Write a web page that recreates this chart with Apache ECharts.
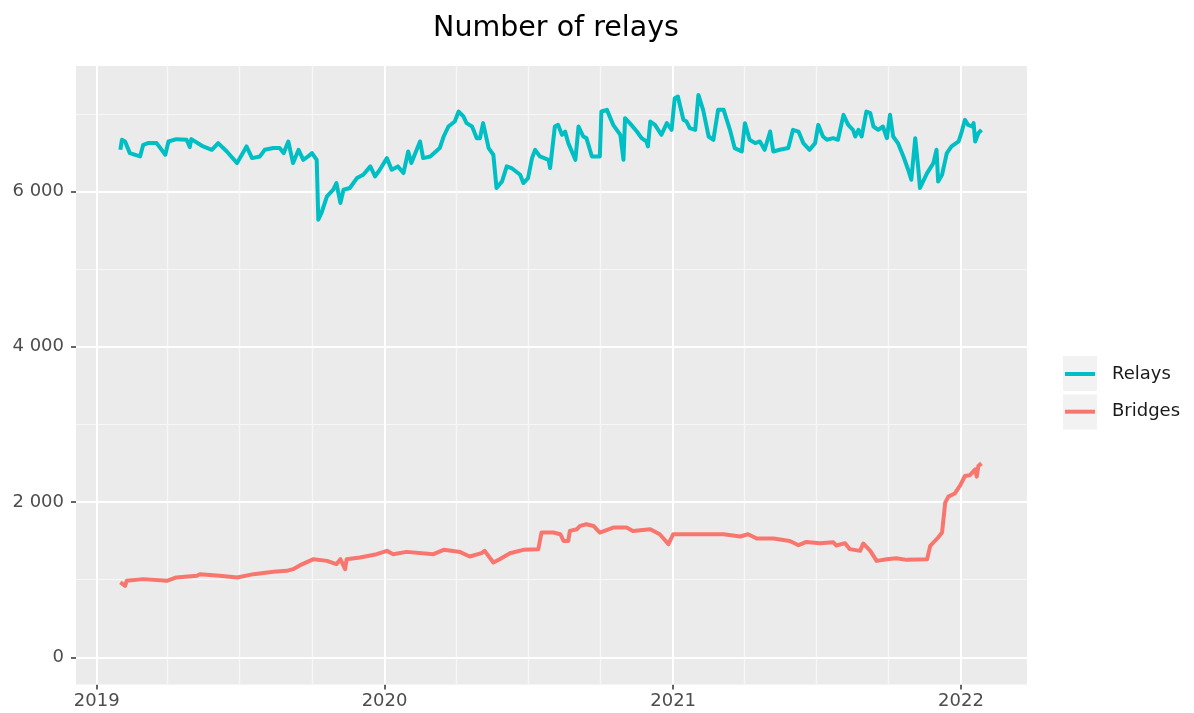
<!DOCTYPE html>
<html><head><meta charset="utf-8">
<script src="https://cdn.jsdelivr.net/npm/echarts@6/dist/echarts.min.js"></script>
<style>html,body{margin:0;padding:0;background:#fff}#c{width:1194px;height:713px}</style>
</head><body><div id="c"></div>
<script>
// ---- data ----
const relayDates = ['2019-01-31','2019-02-02','2019-02-06','2019-02-12','2019-02-25','2019-03-01','2019-03-07','2019-03-18','2019-03-29','2019-04-02','2019-04-12','2019-04-25','2019-04-29','2019-05-01','2019-05-16','2019-05-27','2019-06-04','2019-06-15','2019-06-28','2019-07-10','2019-07-17','2019-07-27','2019-08-02','2019-08-13','2019-08-21','2019-08-26','2019-09-01','2019-09-07','2019-09-14','2019-09-20','2019-09-26','2019-10-01','2019-10-07','2019-10-09','2019-10-13','2019-10-20','2019-10-28','2019-11-01','2019-11-06','2019-11-10','2019-11-18','2019-11-27','2019-12-05','2019-12-14','2019-12-20','2019-12-26','2020-01-04','2020-01-10','2020-01-18','2020-01-25','2020-01-31','2020-02-04','2020-02-15','2020-02-19','2020-02-28','2020-03-11','2020-03-16','2020-03-22','2020-03-30','2020-04-04','2020-04-10','2020-04-14','2020-04-21','2020-04-27','2020-05-01','2020-05-05','2020-05-12','2020-05-18','2020-05-22','2020-05-29','2020-06-04','2020-06-10','2020-06-21','2020-06-25','2020-07-01','2020-07-06','2020-07-10','2020-07-16','2020-07-27','2020-07-29','2020-08-04','2020-08-08','2020-08-13','2020-08-17','2020-08-21','2020-08-30','2020-09-03','2020-09-09','2020-09-13','2020-09-15','2020-09-20','2020-09-30','2020-10-02','2020-10-09','2020-10-17','2020-10-26','2020-10-30','2020-11-01','2020-11-07','2020-11-16','2020-11-22','2020-11-28','2020-11-30','2020-12-03','2020-12-09','2020-12-17','2020-12-24','2020-12-30','2021-01-03','2021-01-07','2021-01-14','2021-01-18','2021-01-22','2021-01-29','2021-02-02','2021-02-08','2021-02-15','2021-02-21','2021-02-27','2021-03-06','2021-03-14','2021-03-20','2021-03-29','2021-04-02','2021-04-08','2021-04-15','2021-04-21','2021-04-27','2021-05-04','2021-05-08','2021-05-16','2021-05-27','2021-06-02','2021-06-09','2021-06-15','2021-06-23','2021-06-30','2021-07-04','2021-07-10','2021-07-15','2021-07-23','2021-07-29','2021-08-05','2021-08-11','2021-08-17','2021-08-20','2021-08-24','2021-08-28','2021-09-03','2021-09-08','2021-09-12','2021-09-18','2021-09-24','2021-09-29','2021-10-03','2021-10-07','2021-10-13','2021-10-20','2021-10-26','2021-10-30','2021-11-04','2021-11-08','2021-11-10','2021-11-12','2021-11-19','2021-11-27','2021-12-01','2021-12-03','2021-12-08','2021-12-14','2021-12-20','2021-12-29','2022-01-02','2022-01-06','2022-01-10','2022-01-15','2022-01-17','2022-01-19','2022-01-23','2022-01-27'];
const relayValues = [6536,6664,6643,6493,6450,6600,6622,6622,6472,6643,6673,6665,6571,6673,6579,6536,6622,6514,6365,6579,6429,6450,6536,6558,6558,6493,6643,6365,6536,6407,6450,6493,6407,5636,5722,5935,6022,6108,5851,6022,6044,6172,6215,6322,6193,6279,6429,6279,6322,6236,6514,6365,6643,6429,6450,6558,6707,6836,6900,7029,6965,6879,6836,6686,6686,6879,6558,6472,6044,6129,6322,6301,6215,6108,6172,6429,6536,6450,6407,6301,6836,6857,6729,6771,6622,6407,6836,6707,6686,6707,6450,6450,7029,7050,6857,6729,6407,6943,6879,6771,6686,6643,6579,6900,6857,6729,6879,6793,7200,7222,6922,6900,6815,6793,7243,7050,6707,6665,7050,7050,6793,6558,6514,6879,6665,6622,6643,6536,6771,6514,6536,6558,6793,6771,6622,6536,6622,6857,6707,6665,6686,6665,6986,6857,6793,6707,6793,6707,7029,7008,6836,6793,6836,6686,6986,6707,6622,6450,6279,6150,6686,6279,6044,6086,6236,6365,6536,6129,6215,6493,6579,6643,6771,6922,6857,6836,6879,6643,6750,6793];
const bridgeDates = ['2019-01-31','2019-02-06','2019-02-08','2019-03-01','2019-03-31','2019-04-12','2019-05-08','2019-05-12','2019-06-06','2019-06-28','2019-07-19','2019-08-13','2019-08-30','2019-09-07','2019-09-16','2019-10-03','2019-10-20','2019-11-01','2019-11-06','2019-11-12','2019-11-14','2019-12-01','2019-12-22','2020-01-04','2020-01-12','2020-01-29','2020-03-03','2020-03-16','2020-04-06','2020-04-18','2020-05-03','2020-05-07','2020-05-18','2020-05-26','2020-06-08','2020-06-25','2020-07-14','2020-07-18','2020-08-02','2020-08-11','2020-08-15','2020-08-21','2020-08-23','2020-09-01','2020-09-05','2020-09-13','2020-09-22','2020-09-30','2020-10-17','2020-11-03','2020-11-11','2020-12-03','2020-12-15','2020-12-26','2021-01-01','2021-02-13','2021-03-06','2021-03-27','2021-04-06','2021-04-17','2021-05-08','2021-05-29','2021-06-09','2021-06-19','2021-07-06','2021-07-23','2021-07-27','2021-08-07','2021-08-13','2021-08-26','2021-08-30','2021-09-08','2021-09-16','2021-09-29','2021-10-11','2021-10-24','2021-11-19','2021-11-23','2021-12-03','2021-12-08','2021-12-12','2021-12-16','2021-12-24','2021-12-31','2022-01-06','2022-01-12','2022-01-19','2022-01-21','2022-01-23','2022-01-27'];
const bridgeValues = [964,921,985,1007,985,1029,1049,1071,1049,1029,1071,1101,1114,1135,1187,1264,1242,1200,1264,1135,1264,1286,1328,1371,1328,1358,1328,1384,1355,1299,1341,1371,1221,1264,1341,1384,1393,1607,1607,1585,1499,1499,1628,1650,1692,1714,1692,1607,1671,1671,1628,1650,1585,1457,1585,1585,1585,1556,1585,1530,1530,1499,1444,1486,1470,1483,1440,1470,1393,1371,1466,1371,1242,1264,1277,1255,1264,1435,1543,1607,1993,2070,2109,2215,2335,2344,2421,2327,2464,2498];
const seriesNames = ['Relays','Bridges'];
const yMajorTicks = [0, 2000, 4000, 6000];
const yMinorTicks = [1000, 3000, 5000, 7000];
const xMajorTicks = ['2019-01-01','2020-01-01','2021-01-01','2022-01-01'];
const xMinorTicks = ['2019-04-01','2019-07-01','2019-10-01','2020-04-01','2020-07-01','2020-10-01','2021-04-01','2021-07-01','2021-10-01'];
const titleText = 'Number of relays';

// ---- helpers ----
function ts(s){ const p = s.split('-').map(Number); return Date.UTC(p[0], p[1]-1, p[2]); }
const FONT = 'DejaVu Sans';
const xMin = Date.UTC(2018, 11, 5, 18);
const xMax = Date.UTC(2022, 2, 25, 17);

const gridLines = [];
const minorStyle = {color: '#F7F7F7', width: 1.2, type: 'solid'};
const majorStyle = {color: '#FFFFFF', width: 2, type: 'solid'};
xMinorTicks.forEach(d => gridLines.push({xAxis: ts(d), lineStyle: minorStyle}));
yMinorTicks.forEach(v => gridLines.push({yAxis: v, lineStyle: minorStyle}));
xMajorTicks.forEach(d => gridLines.push({xAxis: ts(d), lineStyle: majorStyle}));
yMajorTicks.forEach(v => gridLines.push({yAxis: v, lineStyle: majorStyle}));

const chart = echarts.init(document.getElementById('c'), null, {renderer: 'canvas'});
chart.setOption({
  animation: false,
  backgroundColor: '#FFFFFF',
  title: {
    text: titleText, left: 551, top: 9, textAlign: 'center',
    textStyle: {fontFamily: FONT, fontSize: 28.5, fontWeight: 'normal', color: '#000'}
  },
  grid: {
    left: 76, right: 167, top: 66, bottom: 28.5,
    show: true, backgroundColor: '#EBEBEB', borderWidth: 0,
    containLabel: false, outerBoundsMode: 'none'
  },
  xAxis: {
    type: 'value', min: xMin, max: xMax, scale: true,
    axisLine: {show: false, onZero: false},
    splitLine: {show: false}, minorSplitLine: {show: false},
    axisTick: {show: true, length: 5, lineStyle: {color: '#333333', width: 1.5}, customValues: xMajorTicks.map(ts)},
    axisLabel: {
      customValues: xMajorTicks.map(ts), margin: 8, showMinLabel: true, showMaxLabel: true,
      fontFamily: FONT, fontSize: 18, color: '#4D4D4D',
      formatter: v => String(new Date(v).getUTCFullYear())
    }
  },
  yAxis: {
    type: 'value', min: -350, max: 7615,
    axisLine: {show: false, onZero: false},
    splitLine: {show: false},
    axisTick: {show: true, length: 5, lineStyle: {color: '#333333', width: 1.5}, customValues: yMajorTicks},
    axisLabel: {
      customValues: yMajorTicks, margin: 12,
      fontFamily: FONT, fontSize: 18, color: '#4D4D4D',
      formatter: v => String(v).replace(/\B(?=(\d{3})+(?!\d))/g, ' ')
    }
  },
  legend: {
    data: seriesNames, orient: 'vertical', left: 1065, top: 364, padding: 0,
    icon: 'rect', itemWidth: 30, itemHeight: 4, itemGap: 17.7,
    textStyle: {fontFamily: FONT, fontSize: 18, color: '#1A1A1A', lineHeight: 20, padding: [0, 0, 0, 12]}
  },
  graphic: [
    {type: 'rect', left: 1063, top: 356, shape: {width: 34, height: 35}, style: {fill: '#F2F2F2'}, z: 0, silent: true},
    {type: 'rect', left: 1063, top: 394.5, shape: {width: 34, height: 35}, style: {fill: '#F2F2F2'}, z: 0, silent: true}
  ],
  series: [
    {
      name: '_grid', type: 'line', data: [], silent: true, z: 1,
      markLine: {silent: true, symbol: ['none','none'], label: {show: false}, z: 1, animation: false,
        emphasis: {disabled: true}, data: gridLines}
    },
    {
      name: seriesNames[0], type: 'line', z: 3, showSymbol: false, symbol: 'none',
      color: '#00BFC4', lineStyle: {color: '#00BFC4', width: 4, join: 'round'},
      data: relayDates.map((d, i) => [ts(d), relayValues[i]])
    },
    {
      name: seriesNames[1], type: 'line', z: 3, showSymbol: false, symbol: 'none',
      color: '#F8766D', lineStyle: {color: '#F8766D', width: 4, join: 'round'},
      data: bridgeDates.map((d, i) => [ts(d), bridgeValues[i]])
    }
  ]
});
</script></body></html>
